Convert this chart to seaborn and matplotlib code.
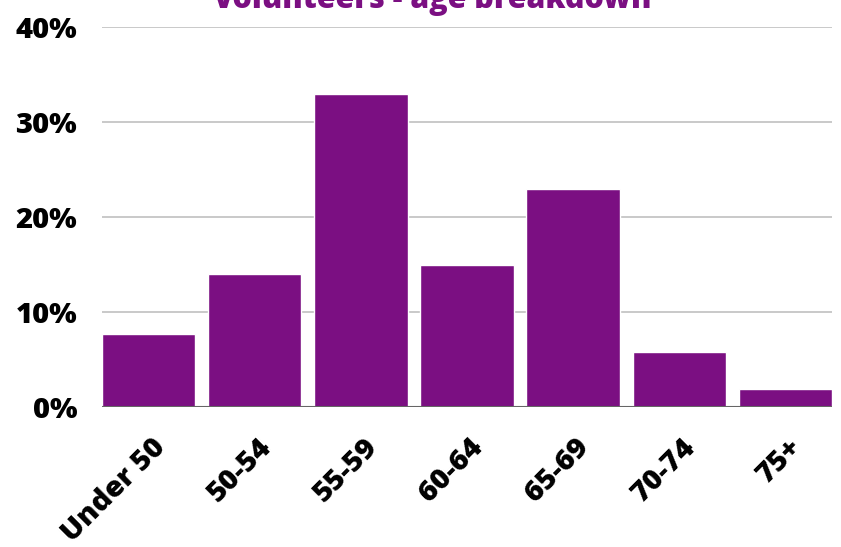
import matplotlib
matplotlib.use('Agg')
import matplotlib.pyplot as plt
import matplotlib.transforms as mtransforms
import seaborn as sns
import pandas as pd
from matplotlib.ticker import FuncFormatter


# Chart data
age_groups = ['Under 50', '50-54', '55-59', '60-64', '65-69', '70-74', '75+']
share = [7.7, 14, 33, 15, 23, 5.8, 1.9]
y_ticks = [0, 10, 20, 30, 40]

purple = '#7b0f82'

sns.set_style('white')
plt.rcParams['font.family'] = ['Open Sans', 'DejaVu Sans']

df = pd.DataFrame({'age': age_groups, 'share': share})

fig = plt.figure(figsize=(8.41, 5.47), dpi=100)
ax = fig.add_axes([102 / 841, 1 - 407 / 547, 730 / 841, 380 / 547])

sns.barplot(data=df, x='age', y='share', color=purple, width=0.88,
            saturation=1, ax=ax, zorder=3)

# Axes styling
ax.set_ylim(0, 40)
ax.set_xlim(-0.44, len(age_groups) - 0.56)
ax.set_yticks(y_ticks)
ax.yaxis.set_major_formatter(FuncFormatter(lambda v, p: f'{v:.0f}%'))
ax.grid(axis='y', color='#c0c0c0', linewidth=1.2, zorder=0)
ax.axhline(0, color='#666666', linewidth=1.5, zorder=4)
for s in ax.spines.values():
	s.set_visible(False)
ax.tick_params(axis='both', length=0, labelsize=21, labelcolor='black')
ax.tick_params(axis='y', pad=18)
ax.tick_params(axis='x', pad=26)
for lbl in ax.get_yticklabels():
	lbl.set_fontweight('heavy')

# rotated category labels, nudged right like the original
shift = mtransforms.ScaledTranslation(12 / 100, 0, fig.dpi_scale_trans)
for lbl in ax.get_xticklabels():
	lbl.set_fontweight('heavy')
	lbl.set_rotation(45)
	lbl.set_ha('right')
	lbl.set_va('center')
	lbl.set_rotation_mode('anchor')
	lbl.set_transform(lbl.get_transform() + shift)
ax.set_xlabel('')
ax.set_ylabel('')

# Title (clipped at the top like the original)
fig.text(432 / 841, 1 - 8 / 547, 'Volunteers - age breakdown', color=purple,
         fontsize=22, fontweight='heavy', ha='center', va='baseline')

fig.savefig('out.png', dpi=100)
